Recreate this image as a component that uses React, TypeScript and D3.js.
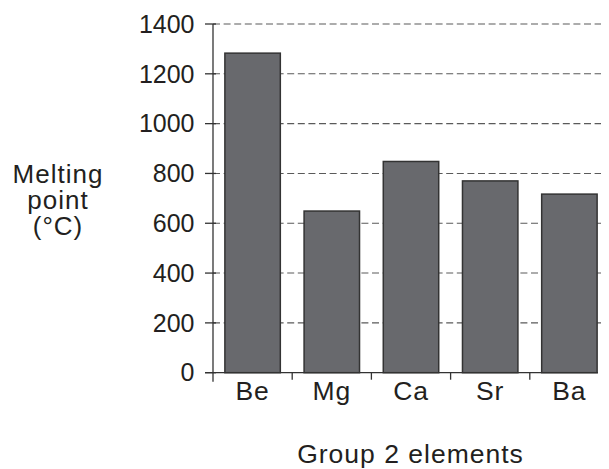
import React from "react";
import * as d3 from "d3";

const categories = ["Be", "Mg", "Ca", "Sr", "Ba"];
const meltingPoints = [1283, 649, 848, 770, 717];
const yTicks = [0, 200, 400, 600, 800, 1000, 1200, 1400];
const yLabelLines = ["Melting", "point", "(°C)"];
const xTitle = "Group 2 elements";

const W = 609;
const H = 469;
const x0 = 213;
const x1 = 609;
const yTop = 24;
const yBottom = 372.7;
const font = "'Liberation Sans', Arial, Helvetica, sans-serif";

export default function App() {
  const x = d3
    .scaleBand<string>()
    .domain(categories)
    .range([x0, x1])
    .paddingInner(0.3)
    .paddingOuter(0.15);
  const y = d3.scaleLinear().domain([0, 1400]).range([yBottom, yTop]);
  const step = x.step();
  const boundaries = categories.map((_, i) => x0 + step * (i + 1)).filter((b) => b < 598);

  return (
    <svg
      width={W}
      height={H}
      style={{ position: "absolute", left: 0, top: 0, background: "#fff" }}
      fontFamily={font}
    >
      {/* gridlines */}
      {yTicks.filter((t) => t > 0).map((t) => (
        <line
          key={"g" + t}
          x1={x0}
          x2={601}
          y1={y(t)}
          y2={y(t)}
          stroke="#5a5a5a"
          strokeWidth={1.1}
          strokeDasharray="7 3.6"
        />
      ))}
      {/* bars */}
      {categories.map((c, i) => (
        <rect
          key={c}
          x={x(c)}
          y={y(meltingPoints[i])}
          width={x.bandwidth()}
          height={yBottom - y(meltingPoints[i])}
          fill="#68696d"
          stroke="#333"
          strokeWidth={1.5}
        />
      ))}
      {/* axes */}
      <line x1={x0} x2={x0} y1={yTop} y2={yBottom + 9} stroke="#333" strokeWidth={1.3} />
      <line x1={x0 - 8} x2={598} y1={yBottom} y2={yBottom} stroke="#333" strokeWidth={1.3} />
      {yTicks.map((t) => (
        <g key={"t" + t}>
          <line x1={x0 - 8} x2={x0 + 3} y1={y(t)} y2={y(t)} stroke="#333" strokeWidth={1.3} />
          <text
            x={x0 - 18.5}
            y={y(t)}
            dy="0.35em"
            textAnchor="end"
            fontSize={25}
            fill="#231f20"
          >
            {t}
          </text>
        </g>
      ))}
      {boundaries.map((b) => (
        <line key={"b" + b} x1={b} x2={b} y1={yBottom} y2={yBottom + 7} stroke="#333" strokeWidth={1.3} />
      ))}
      {categories.map((c) => (
        <text
          key={"l" + c}
          x={(x(c) as number) + x.bandwidth() / 2}
          y={400}
          textAnchor="middle"
          fontSize={26.5}
          letterSpacing={0.9}
          fill="#231f20"
        >
          {c}
        </text>
      ))}
      {yLabelLines.map((l, i) => (
        <text
          key={l}
          x={58}
          y={183 + i * 26}
          textAnchor="middle"
          fontSize={26}
          letterSpacing={1}
          fill="#231f20"
        >
          {l}
        </text>
      ))}
      <text x={410.5} y={463} textAnchor="middle" fontSize={26.5} letterSpacing={1} fill="#231f20">
        {xTitle}
      </text>
    </svg>
  );
}
